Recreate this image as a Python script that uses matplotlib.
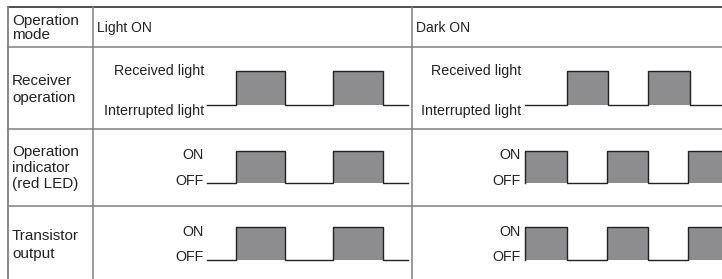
import matplotlib
matplotlib.use("Agg")
import matplotlib.pyplot as plt

plt.rcParams['font.family'] = ['Liberation Sans', 'DejaVu Sans']

# table layout (pixel units of the 722x279 canvas)
col_lines = [8, 93, 412]
row_lines = [47, 129, 206]
top_line = 7

mode_titles = ["Light ON", "Dark ON"]
mode_x = [97, 416]

row_labels = [
    (["Operation", "mode"], [25, 39]),
    (["Receiver", "operation"], [85, 102]),
    (["Operation", "indicator", "(red LED)"], [156, 172, 188]),
    (["Transistor", "output"], [240, 258]),
]

# level labels per signal row: (high text, low text, high baseline, low baseline)
level_labels = [
    ("Received light", "Interrupted light", 75, 115),
    ("ON", "OFF", 159, 185),
    ("ON", "OFF", 236, 261),
]
label_right = [204, 521]

# signal levels (high y, low y) for each row
levels = [(71, 105), (151, 183), (227, 260)]

# waveforms: start x, end x, toggle positions, starts high?
light_receiver = (207, 408, [236, 285, 333, 383], False)
light_indicator = (207, 408, [236, 285, 333, 383], False)
light_transistor = (207, 408, [236, 285, 333, 383], False)
dark_receiver = (525, 722, [567, 608, 648, 690], False)
dark_indicator = (525, 722, [567, 607, 648, 688], True)
dark_transistor = (525, 722, [567, 607, 648, 688], True)

waves = [
    [light_receiver, light_indicator, light_transistor],
    [dark_receiver, dark_indicator, dark_transistor],
]

fill_color = "#8d8d90"
line_color = "#222222"
grid_color = "#808080"


def draw_wave(ax, wave, y_high, y_low):
    x0, x1, edges, high = wave
    xs = [x0] + edges + [x1]
    px, py = [x0], [y_low]
    for a, b in zip(xs[:-1], xs[1:]):
        y = y_high if high else y_low
        if high:
            ax.fill_between([a, b], y_low, y_high, color=fill_color, lw=0)
        px += [a, b]
        py += [y, y]
        high = not high
    ax.plot(px, py, color=line_color, lw=1.0, solid_joinstyle='miter')


fig = plt.figure(figsize=(7.22, 2.79), dpi=100)
ax = fig.add_axes([0, 0, 1, 1])
ax.set_xlim(0, 722)
ax.set_ylim(279, 0)
ax.set_axis_off()

# grid
ax.plot([col_lines[0], 722], [top_line, top_line], color="#333333", lw=1.2)
for y in row_lines:
    ax.plot([col_lines[0], 722], [y, y], color=grid_color, lw=1.1)
for x in col_lines:
    ax.plot([x, x], [top_line, 279], color=grid_color, lw=1.3 if x == col_lines[0] else 1.1)

# left column labels
for lines, baselines in row_labels:
    for txt, yb in zip(lines, baselines):
        ax.text(12, yb, txt, fontsize=11, va='baseline', ha='left', color="#222222")

# mode headers
for title, x in zip(mode_titles, mode_x):
    ax.text(x, 32, title, fontsize=10, va='baseline', ha='left', color="#222222")

# level labels
for xr in label_right:
    for hi, lo, yh, yl in level_labels:
        ax.text(xr, yh, hi, fontsize=10.3, va='baseline', ha='right', color="#222222")
        ax.text(xr, yl, lo, fontsize=10.3, va='baseline', ha='right', color="#222222")

# waveforms
for mode_waves in waves:
    for wave, (yh, yl) in zip(mode_waves, levels):
        draw_wave(ax, wave, yh, yl)

fig.savefig("out.png", dpi=100)
